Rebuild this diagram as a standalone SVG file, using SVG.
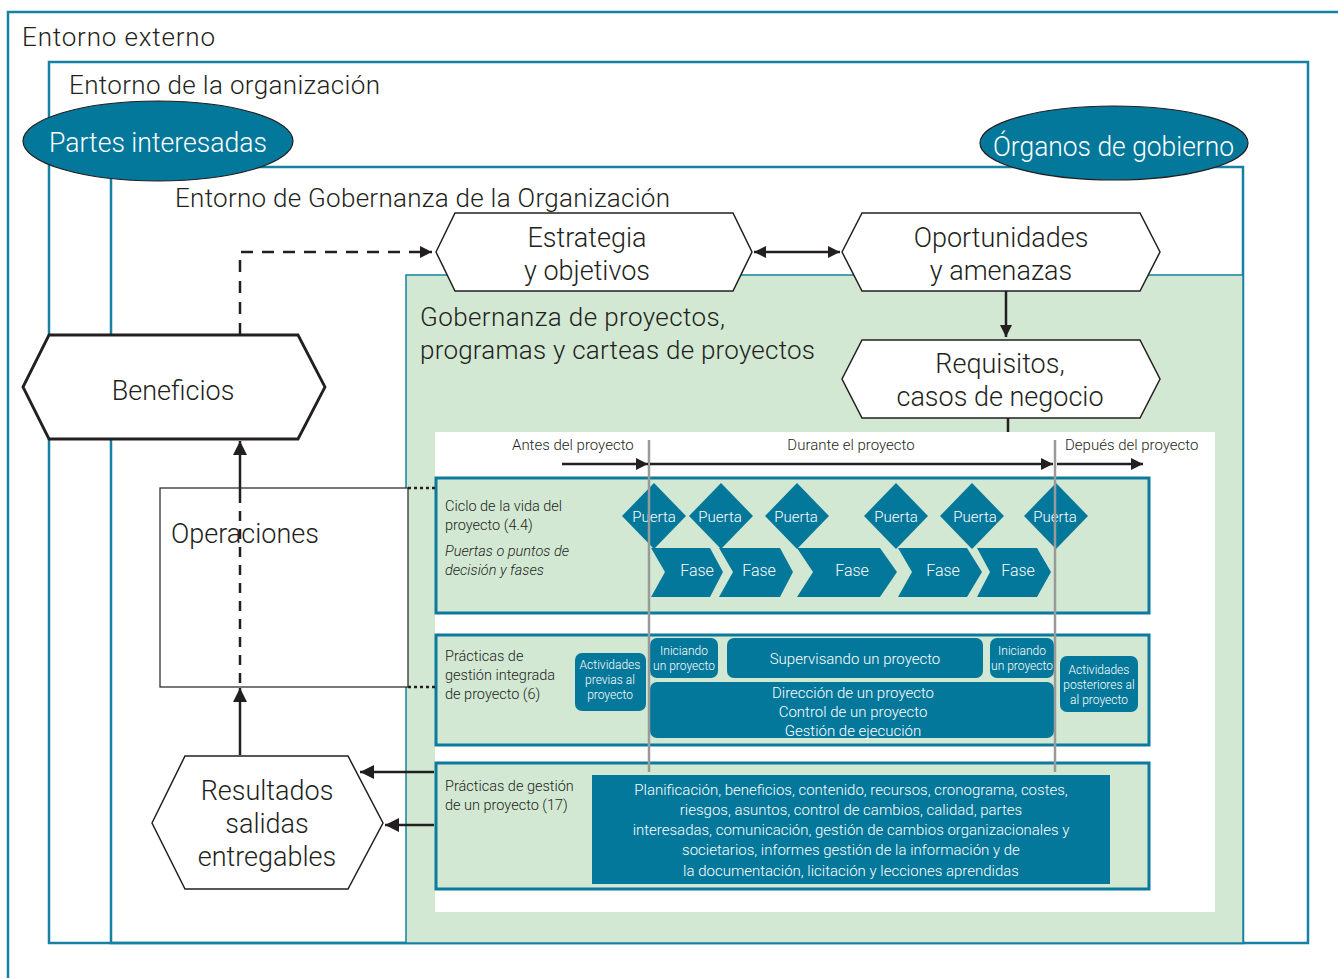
<svg xmlns="http://www.w3.org/2000/svg" width="1338" height="978" viewBox="0 0 1338 978">
<defs>
<style>
.t{font-family:Roboto,"Liberation Sans",sans-serif;font-weight:300;fill:#231f20}
.w{font-family:Roboto,"Liberation Sans",sans-serif;font-weight:300;fill:#ffffff}
.frame{fill:none;stroke:#1581a3;stroke-width:2.5}
.band{fill:#d2e8d3;stroke:#0b7a9c;stroke-width:3}
.dk{fill:#04789b}
.hex{fill:#ffffff;stroke:#231f20;stroke-width:1.5}
.ln{fill:none;stroke:#231f20;stroke-width:2.5}
.gray{stroke:#9a9a9a;stroke-width:2.5}
</style>
<marker id="ah" viewBox="0 0 10 10" refX="10" refY="5" markerWidth="15" markerHeight="12" markerUnits="userSpaceOnUse" orient="auto-start-reverse"><path d="M0,0 L10,5 L0,10 Z" fill="#231f20"/></marker>
<marker id="ahb" viewBox="0 0 10 10" refX="10" refY="5" markerWidth="17" markerHeight="14" markerUnits="userSpaceOnUse" orient="auto-start-reverse"><path d="M0,0 L10,5 L0,10 Z" fill="#231f20"/></marker>
</defs>

<g id="entorno-externo">
<rect x="8" y="12" width="1340" height="975" class="frame"/>
<text x="22" y="46" class="t" font-size="26" textLength="193">Entorno externo</text>
</g>
<g id="entorno-organizacion">
<rect x="49" y="62" width="1259" height="881" class="frame"/>
<text x="69" y="94" class="t" font-size="26" textLength="311">Entorno de la organización</text>
</g>
<g id="entorno-gobernanza">
<rect x="111" y="167" width="1132" height="776" class="frame"/>
<text x="175" y="207" class="t" font-size="26" textLength="495">Entorno de Gobernanza de la Organización</text>
</g>
<g id="gobernanza-proyectos">
<rect x="406" y="275" width="837" height="668" fill="#d2e8d3" stroke="#1581a3" stroke-width="1.5"/>
<text x="420" y="326" class="t" font-size="26" textLength="305">Gobernanza de proyectos,</text>
<text x="420" y="359" class="t" font-size="26" textLength="395">programas y carteas de proyectos</text>
</g>
<g id="area-blanca">
<rect x="435" y="432" width="780" height="480" fill="#ffffff"/>
</g>

<g id="partes-interesadas">
<ellipse cx="158" cy="141" rx="135" ry="40" fill="#04789b" stroke="#231f20" stroke-width="1.2"/>
<text x="49" y="152" class="w" font-size="28" textLength="218" lengthAdjust="spacingAndGlyphs">Partes interesadas</text>
</g>
<g id="organos-gobierno">
<ellipse cx="1114" cy="143" rx="134" ry="37" fill="#04789b" stroke="#231f20" stroke-width="1.2"/>
<text x="993" y="156" class="w" font-size="28" textLength="241" lengthAdjust="spacingAndGlyphs">Órganos de gobierno</text>
</g>

<g id="estrategia">
<polygon points="436,252 455,213 733,213 752,252 733,291 455,291" class="hex"/>
<text text-anchor="middle" class="t" font-size="27"><tspan x="587" y="247">Estrategia</tspan><tspan x="587" y="280">y objetivos</tspan></text>
</g>
<g id="oportunidades">
<polygon points="842,252 862,213 1140,213 1160,252 1140,291 862,291" class="hex"/>
<text text-anchor="middle" class="t" font-size="27"><tspan x="1001" y="247">Oportunidades</tspan><tspan x="1001" y="280">y amenazas</tspan></text>
</g>
<g id="requisitos">
<polygon points="842,379 862,340 1140,340 1160,379 1140,418 862,418" class="hex"/>
<text text-anchor="middle" class="t" font-size="27"><tspan x="1000" y="373">Requisitos,</tspan><tspan x="1000" y="406">casos de negocio</tspan></text>
</g>
<g id="beneficios">
<polygon points="23,387 49,335 298,335 325,387 298,439 49,439" fill="#ffffff" stroke="#231f20" stroke-width="2.8"/>
<text x="173" y="400" text-anchor="middle" class="t" font-size="27">Beneficios</text>
</g>
<g id="operaciones">
<rect x="160" y="488" width="248" height="199" fill="#ffffff" stroke="#231f20" stroke-width="1.2"/>
<text x="171" y="543" class="t" font-size="27">Operaciones</text>
</g>
<g id="resultados">
<polygon points="152,823 185,756 348,756 383,823 348,889 185,889" class="hex"/>
<text text-anchor="middle" class="t" font-size="27"><tspan x="267" y="800">Resultados</tspan><tspan x="267" y="833">salidas</tspan><tspan x="267" y="866">entregables</tspan></text>
</g>

<g id="timeline-labels">
<text x="512" y="450" class="t" font-size="15">Antes del proyecto</text>
<text x="851" y="450" text-anchor="middle" class="t" font-size="15">Durante el proyecto</text>
<text x="1065" y="450" class="t" font-size="15">Depués del proyecto</text>
</g>

<g id="ciclo-vida">
<rect x="436" y="478" width="713" height="135" class="band"/>
<text class="t" font-size="14.5"><tspan x="445" y="511">Ciclo de la vida del</tspan><tspan x="445" y="530">proyecto (4.4)</tspan></text>
<text class="t" font-size="14.5" font-style="italic"><tspan x="445" y="556">Puertas o puntos de</tspan><tspan x="445" y="575">decisión y fases</tspan></text>
<g class="dk">
<polygon points="651,548 710,548 723,572 710,597 651,597 665,572"/>
<polygon points="719,548 780,548 793,572 780,597 719,597 733,572"/>
<polygon points="797,548 880,548 897,572 880,597 797,597 813,572"/>
<polygon points="898,548 967,548 982,572 967,597 898,597 912,572"/>
<polygon points="977,548 1037,548 1051,572 1037,597 977,597 990,572"/>
<polygon points="654,483 686,516 654,549 622,516"/>
<polygon points="721,483 753,516 721,549 689,516"/>
<polygon points="797,483 829,516 797,549 765,516"/>
<polygon points="896,483 928,516 896,549 864,516"/>
<polygon points="972,483 1004,516 972,549 940,516"/>
<polygon points="1056,483 1088,516 1056,549 1024,516"/>
</g>
<g class="w" font-size="15" text-anchor="middle">
<text x="654" y="522">Puerta</text>
<text x="720" y="522">Puerta</text>
<text x="796" y="522">Puerta</text>
<text x="896" y="522">Puerta</text>
<text x="975" y="522">Puerta</text>
<text x="1055" y="522">Puerta</text>
<text x="697" y="576" font-size="16">Fase</text>
<text x="759" y="576" font-size="16">Fase</text>
<text x="852" y="576" font-size="16">Fase</text>
<text x="943" y="576" font-size="16">Fase</text>
<text x="1018" y="576" font-size="16">Fase</text>
</g>
</g>

<g id="practicas-integrada">
<rect x="436" y="635" width="713" height="110" class="band"/>
<text class="t" font-size="14.5"><tspan x="445" y="661">Prácticas de</tspan><tspan x="445" y="680">gestión integrada</tspan><tspan x="445" y="699">de proyecto (6)</tspan></text>
<g class="dk">
<rect x="575" y="653" width="71" height="58" rx="7"/>
<rect x="650" y="638" width="68" height="40" rx="7"/>
<rect x="727" y="638" width="256" height="40" rx="7"/>
<rect x="990" y="638" width="64" height="40" rx="7"/>
<rect x="650" y="682" width="404" height="56" rx="7"/>
<rect x="1060" y="656" width="78" height="56" rx="7"/>
</g>
<g class="w" text-anchor="middle" font-size="12">
<text><tspan x="610" y="669">Actividades</tspan><tspan x="610" y="684">previas al</tspan><tspan x="610" y="699">proyecto</tspan></text>
<text><tspan x="684" y="655">Iniciando</tspan><tspan x="684" y="670">un proyecto</tspan></text>
<text><tspan x="1022" y="655">Iniciando</tspan><tspan x="1022" y="670">un proyecto</tspan></text>
<text><tspan x="1099" y="674">Actividades</tspan><tspan x="1099" y="689">posteriores al</tspan><tspan x="1099" y="704">al proyecto</tspan></text>
<text x="855" y="664" font-size="15">Supervisando un proyecto</text>
<text font-size="15"><tspan x="853" y="698">Dirección de un proyecto</tspan><tspan x="853" y="717">Control de un proyecto</tspan><tspan x="853" y="736">Gestión de ejecución</tspan></text>
</g>
</g>

<g id="practicas-gestion">
<rect x="436" y="763" width="713" height="126" class="band"/>
<text class="t" font-size="14.5"><tspan x="445" y="791">Prácticas de gestión</tspan><tspan x="445" y="810">de un proyecto (17)</tspan></text>
<rect x="592" y="775" width="518" height="109" class="dk"/>
<text class="w" text-anchor="middle" font-size="15"><tspan x="851" y="795">Planificación, beneficios, contenido, recursos, cronograma, costes,</tspan><tspan x="851" y="815">riesgos, asuntos, control de cambios, calidad, partes</tspan><tspan x="851" y="835">interesadas, comunicación, gestión de cambios organizacionales y</tspan><tspan x="851" y="855">societarios, informes gestión de la información y de</tspan><tspan x="851" y="876">la documentación, licitación y lecciones aprendidas</tspan></text>
</g>

<g id="connectors">
<line x1="649" y1="440" x2="649" y2="772" class="gray"/>
<line x1="1055" y1="440" x2="1055" y2="772" class="gray"/>
<line x1="562" y1="464" x2="648" y2="464" class="ln" marker-end="url(#ah)"/>
<line x1="650" y1="464" x2="1053" y2="464" class="ln" marker-end="url(#ah)"/>
<line x1="1057" y1="464" x2="1143" y2="464" class="ln" marker-end="url(#ah)"/>
<polyline points="240,335 240,252 432,252" class="ln" stroke-dasharray="12,9" marker-end="url(#ah)"/>
<line x1="754" y1="252" x2="840" y2="252" class="ln" marker-start="url(#ah)" marker-end="url(#ah)"/>
<line x1="1006" y1="291" x2="1006" y2="337" class="ln" marker-end="url(#ah)"/>
<line x1="1008" y1="418" x2="1008" y2="432" class="ln"/>
<line x1="240" y1="493" x2="240" y2="441" class="ln" marker-end="url(#ahb)"/>
<line x1="240" y1="493" x2="240" y2="688" class="ln" stroke-dasharray="10,8"/>
<line x1="240" y1="755" x2="240" y2="688" class="ln" marker-end="url(#ahb)"/>
<line x1="408" y1="488" x2="436" y2="488" stroke="#231f20" stroke-width="2.5" stroke-dasharray="3,3"/>
<line x1="408" y1="687" x2="436" y2="687" stroke="#231f20" stroke-width="2.5" stroke-dasharray="3,3"/>
<line x1="434" y1="772" x2="360" y2="772" class="ln" marker-end="url(#ahb)"/>
<line x1="434" y1="825" x2="385" y2="825" class="ln" marker-end="url(#ahb)"/>
</g>
</svg>
